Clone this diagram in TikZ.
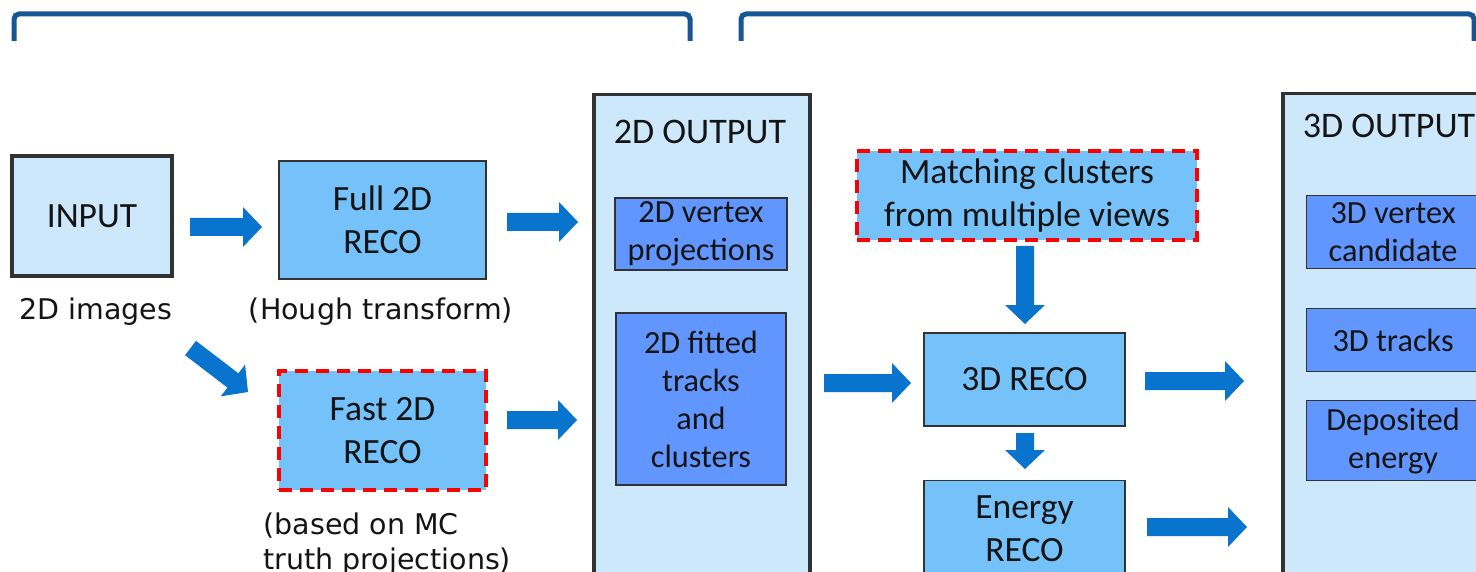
\documentclass[tikz,border=0pt]{standalone}
\usepackage{fontspec}
\setmainfont{Carlito}
\newfontfamily\verdfont{DejaVu Sans}
\usetikzlibrary{calc}
\definecolor{lightfill}{RGB}{205,232,251}
\definecolor{medfill}{RGB}{117,193,250}
\definecolor{darkfill}{RGB}{97,150,255}
\definecolor{arrowblue}{RGB}{8,116,206}
\definecolor{bracketblue}{RGB}{22,86,148}
\definecolor{edgegray}{RGB}{50,50,50}
\definecolor{txt}{RGB}{20,20,20}
\newcommand\blockarrow[2]{%
  \coordinate (bah) at ($(#2)!19pt!(#1)$);
  \fill[arrowblue] ($(#1)!9pt!90:(#2)$) -- ($(bah)!9pt!90:(#2)$) -- ($(bah)!20pt!90:(#2)$) -- (#2)
    -- ($(bah)!20pt!-90:(#2)$) -- ($(bah)!9pt!-90:(#2)$) -- ($(#1)!9pt!-90:(#2)$) -- cycle;}
\tikzset{
  bigtext/.style={font=\fontsize{35.5}{43}\selectfont, text=txt, align=center},
  smalltext/.style={font=\fontsize{32.3}{38}\selectfont, text=txt, align=center},
  titletext/.style={font=\fontsize{36}{43}\selectfont, text=txt},
  notetext/.style={font=\verdfont\fontsize{28.5}{35}\selectfont, text=txt},
  heavybox/.style={draw=edgegray, fill=lightfill, line width=3.5pt, inner sep=0pt},
  recobox/.style={draw=edgegray, fill=medfill, line width=1.2pt, inner sep=0pt, bigtext},
  redbox/.style={draw=red, fill=medfill, line width=4pt, dash pattern=on 13pt off 8pt, inner sep=0pt, bigtext},
  itembox/.style={draw=edgegray, fill=darkfill, line width=1.2pt, inner sep=0pt, smalltext},
  bracket/.style={draw=bracketblue, line width=5pt, rounded corners=5pt},
}
\begin{document}
\begin{tikzpicture}[x=1pt,y=-1pt]
\clip (0,0) rectangle (1476,572);
\fill[white] (0,0) rectangle (1476,572);
% brackets
\coordinate (b1a) at (14,41); \coordinate (b1b) at (14,14); \coordinate (b1c) at (690,14); \coordinate (b1d) at (690,41);
\draw[bracket] (b1a) -- (b1b) -- (b1c) -- (b1d);
\coordinate (b2a) at (741,41); \coordinate (b2b) at (741,14); \coordinate (b2c) at (1474,14); \coordinate (b2d) at (1474,41);
\draw[bracket] (b2a) -- (b2b) -- (b2c) -- (b2d);
% input column
\node[heavybox, minimum width=160, minimum height=120, bigtext] (input) at (92,216) {INPUT};
\node[notetext] (imgs) at (96,312) {2D images};
% 2D reco
\node[recobox, minimum width=207, minimum height=118] (full) at (382.5,220) {Full 2D\\RECO};
\node[notetext] (hough) at (381,312) {(Hough transform)};
\node[redbox, minimum width=207, minimum height=119] (fast) at (382.5,430.5) {Fast 2D\\RECO};
\node[notetext, align=left, anchor=north west] (mc) at (260,509) {(based on MC\\truth projections)};
% 2D output
\node[heavybox, minimum width=216, minimum height=510, anchor=north west] (out2d) at (592,93) {};
\node[titletext] (t2d) at (700,132) {2D OUTPUT};
\node[itembox, minimum width=172, minimum height=72] (vtx2d) at (701,234) {2D vertex\\projections};
\node[itembox, minimum width=170, minimum height=172] (fit2d) at (701,399) {2D fitted\\tracks\\and\\clusters};
% 3D reco
\node[redbox, minimum width=340, minimum height=89] (match) at (1027,196) {Matching clusters\\from multiple views};
\node[recobox, minimum width=201, minimum height=93] (reco3d) at (1024.5,379.5) {3D RECO};
\node[recobox, minimum width=201, minimum height=96, anchor=north] (energy) at (1024.5,480) {Energy\\RECO};
% 3D output
\node[heavybox, minimum width=222, minimum height=510, anchor=north west] (out3d) at (1281,92) {};
\node[titletext] (t3d) at (1389,126) {3D OUTPUT};
\node[itembox, minimum width=173, minimum height=73, anchor=north west] (vtx3d) at (1306,195) {3D vertex\\candidate};
\node[itembox, minimum width=173, minimum height=63, anchor=north west] (trk3d) at (1306,308) {3D tracks};
\node[itembox, minimum width=173, minimum height=80, anchor=north west] (dep3d) at (1306,400) {Deposited\\energy};
% arrows
\coordinate (a1s) at (190,227);   \coordinate (a1e) at (262,227);
\coordinate (a2s) at (190.5,348); \coordinate (a2e) at (248,392);
\coordinate (a3s) at (507,222);   \coordinate (a3e) at (578,222);
\coordinate (a4s) at (507,420);   \coordinate (a4e) at (577,420);
\coordinate (a5s) at (824,383);   \coordinate (a5e) at (911,383);
\coordinate (a6s) at (1025,246);  \coordinate (a6e) at (1025,324);
\coordinate (a7s) at (1025,433);  \coordinate (a7e) at (1025,469);
\coordinate (a8s) at (1145,381);  \coordinate (a8e) at (1244,381);
\coordinate (a9s) at (1147,527);  \coordinate (a9e) at (1247,527);
\blockarrow{a1s}{a1e}
\blockarrow{a2s}{a2e}
\blockarrow{a3s}{a3e}
\blockarrow{a4s}{a4e}
\blockarrow{a5s}{a5e}
\blockarrow{a6s}{a6e}
\blockarrow{a7s}{a7e}
\blockarrow{a8s}{a8e}
\blockarrow{a9s}{a9e}
\end{tikzpicture}
\end{document}
